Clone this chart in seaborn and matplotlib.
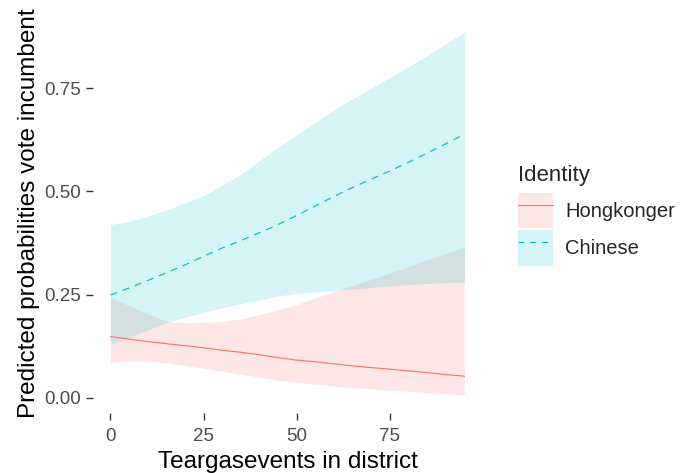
import matplotlib
matplotlib.use("Agg")
import matplotlib.pyplot as plt
import seaborn as sns
import pandas as pd
from matplotlib.patches import Patch
from matplotlib.lines import Line2D
from matplotlib.legend_handler import HandlerTuple

# ---- data ----
tear_events = [0, 5, 10, 15, 20, 25, 30, 35, 40, 45, 50, 55, 60, 65, 70, 75, 80, 85, 90, 95]
hk_fit   = [0.148, 0.142, 0.136, 0.131, 0.126, 0.121, 0.115, 0.110, 0.104, 0.097,
            0.091, 0.087, 0.082, 0.077, 0.073, 0.069, 0.065, 0.061, 0.056, 0.052]
hk_lower = [0.085, 0.089, 0.089, 0.084, 0.078, 0.071, 0.064, 0.057, 0.050, 0.042,
            0.037, 0.033, 0.028, 0.024, 0.021, 0.018, 0.015, 0.012, 0.009, 0.007]
hk_upper = [0.244, 0.223, 0.203, 0.185, 0.182, 0.183, 0.185, 0.191, 0.202, 0.213,
            0.226, 0.242, 0.257, 0.272, 0.287, 0.302, 0.318, 0.334, 0.350, 0.365]
cn_fit   = [0.249, 0.266, 0.284, 0.303, 0.322, 0.343, 0.363, 0.381, 0.400, 0.420,
            0.442, 0.465, 0.488, 0.510, 0.530, 0.550, 0.571, 0.593, 0.616, 0.639]
cn_lower = [0.128, 0.146, 0.164, 0.182, 0.195, 0.207, 0.218, 0.228, 0.237, 0.247,
            0.252, 0.256, 0.260, 0.263, 0.267, 0.271, 0.274, 0.277, 0.279, 0.281]
cn_upper = [0.420, 0.427, 0.440, 0.455, 0.472, 0.490, 0.515, 0.542, 0.575, 0.607,
            0.637, 0.668, 0.698, 0.725, 0.750, 0.777, 0.803, 0.830, 0.858, 0.886]
identities = ["Hongkonger", "Chinese"]
x_ticks = [0, 25, 50, 75]
y_ticks = [0.00, 0.25, 0.50, 0.75]

colors = {"Hongkonger": "#F8766D", "Chinese": "#00BFC4"}

df = pd.concat([
    pd.DataFrame({"x": tear_events, "fit": hk_fit, "lo": hk_lower, "hi": hk_upper, "Identity": "Hongkonger"}),
    pd.DataFrame({"x": tear_events, "fit": cn_fit, "lo": cn_lower, "hi": cn_upper, "Identity": "Chinese"}),
])

sns.set_theme(style="white")
plt.rcParams["font.family"] = ["Liberation Sans", "DejaVu Sans"]

fig = plt.figure(figsize=(6.82, 4.73), dpi=100)
ax = fig.add_axes([0.136, 0.127, 0.571, 0.843])

for ident in identities:
    d = df[df["Identity"] == ident]
    ax.fill_between(d["x"], d["lo"], d["hi"], color=colors[ident], alpha=0.17, linewidth=0)

sns.lineplot(data=df, x="x", y="fit", hue="Identity", style="Identity",
             palette=colors, dashes={"Hongkonger": "", "Chinese": (6, 5)},
             linewidth=0.85, legend=False, ax=ax)

ax.set_xlim(-4.75, 99.75)
ax.set_ylim(-0.037, 0.93)
ax.set_xticks(x_ticks)
ax.set_xticklabels([str(v) for v in x_ticks])
ax.set_yticks(y_ticks)
ax.set_yticklabels([f"{v:.2f}" for v in y_ticks])
for s in ax.spines.values():
    s.set_visible(False)
ax.tick_params(axis="both", which="major", length=5, width=1.0, color="#333333",
               labelsize=13.5, labelcolor="#4D4D4D", pad=3.5, bottom=True, left=True)
ax.tick_params(axis="x", pad=5.5)
ax.set_xlabel("Teargasevents in district", fontsize=17.5, color="black", labelpad=5)
ax.set_ylabel("Predicted probabilities vote incumbent", fontsize=17.5, color="black", labelpad=3)
ax.grid(False)

handles = []
for ident in identities:
    p = Patch(facecolor=colors[ident], alpha=0.17, edgecolor="none")
    ls = "-" if ident == "Hongkonger" else (0, (5, 5))
    l = Line2D([], [], color=colors[ident], linewidth=0.85, linestyle=ls)
    handles.append((p, l))

leg = fig.legend(handles, identities, handler_map={tuple: HandlerTuple(ndivide=1, pad=0)},
                 loc="upper left", bbox_to_anchor=(0.7595, 0.652), frameon=False,
                 fontsize=14.5, title="Identity", title_fontsize=16,
                 handlelength=1.75, handleheight=2.35, labelspacing=0.1,
                 handletextpad=0.6, borderaxespad=0, borderpad=0)
leg._legend_box.align = "left"
leg._legend_box.sep = 5

fig.savefig("out.png", dpi=100)
